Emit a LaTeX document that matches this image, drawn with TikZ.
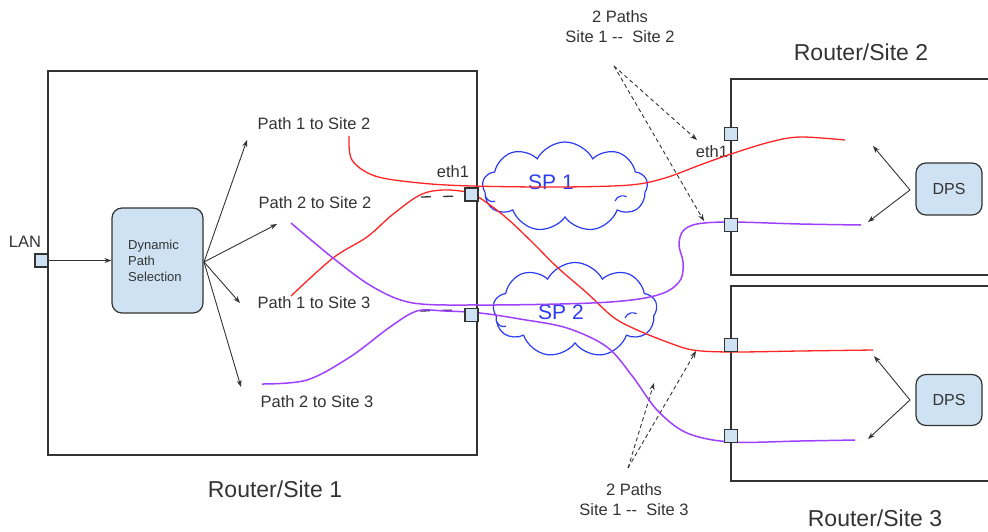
\documentclass[tikz,border=0pt]{standalone}
\usepackage{fontspec}
\setmainfont{Liberation Sans}
\usetikzlibrary{shapes.symbols,arrows.meta}
\definecolor{ink}{HTML}{333333}
\definecolor{portfill}{HTML}{CFE2F3}
\definecolor{pred}{HTML}{FF2424}
\definecolor{ppur}{HTML}{A040FF}
\definecolor{pblue}{HTML}{2B3BF0}
\tikzset{
  box/.style={draw=ink, line width=1.4pt},
  port/.style={draw=ink, fill=portfill, line width=1.2pt, minimum size=13pt, inner sep=0pt},
  dpsbox/.style={draw=ink, fill=portfill, rounded corners=10pt, line width=1.2pt, inner sep=0pt},
  lbl/.style={text=ink, font=\fontsize{16.5}{19}\selectfont, inner sep=0pt},
  big/.style={text=ink, font=\fontsize{23}{27}\selectfont, inner sep=0pt},
  arr/.style={draw=ink, line width=0.9pt, -{Stealth[length=7pt,width=5pt]}},
  darr/.style={arr, dash pattern=on 4pt off 3pt},
  redp/.style={draw=pred, line width=1.3pt},
  purp/.style={draw=ppur, line width=1.5pt},
  cloudsh/.style={cloud, cloud puffs=9, cloud puff arc=125, aspect=1.8, draw=pblue, line width=1.2pt, inner sep=0pt},
  hook/.style={draw=pblue, line width=1.2pt},
  sptext/.style={text=pblue, font=\fontsize{21}{24}\selectfont, inner sep=0pt},
  stub/.style={draw=ink, line width=1.3pt, dash pattern=on 10pt off 12pt}
}
\begin{document}
\begin{tikzpicture}[x=1pt,y=-1pt]
\useasboundingbox (0,0) rectangle (988,531);
% boxes
\draw[box] (48,71) rectangle (477,455);
\draw[box] (990,79) -- (731,79) -- (731,275) -- (990,275);
\draw[box] (990,286) -- (731,286) -- (731,481) -- (990,481);
% clouds
\node[cloudsh, minimum width=165pt, minimum height=90pt] (c1) at (565,187) {};
\node[cloudsh, minimum width=164pt, minimum height=95pt] (c2) at (575,310) {};
\draw[hook] (486,197) arc[start angle=200, end angle=290, radius=7pt];
\draw[hook] (615,201) arc[start angle=160, end angle=60, radius=8pt];
\draw[hook] (497,322) arc[start angle=200, end angle=290, radius=7pt];
\draw[hook] (625,318) arc[start angle=160, end angle=60, radius=8pt];
\node[sptext] (sp1) at (551,182) {SP 1};
\node[sptext] (sp2) at (561,312) {SP 2};
% labels
\node[lbl] (lanl) at (25,242) {LAN};
\node[lbl] (p12) at (314,124) {Path 1 to Site 2};
\node[lbl] (p22) at (315,203) {Path 2 to Site 2};
\node[lbl] (p13) at (314,303) {Path 1 to Site 3};
\node[lbl] (p23) at (317,402) {Path 2 to Site 3};
\node[lbl] (e1) at (453,172) {eth1};
\node[lbl] (e2) at (712,152) {eth1};
\node[lbl, align=center] (t12) at (620,27) {2 Paths\\[1pt]Site 1 {-}{-}\ \ Site 2};
\node[lbl, align=center] (t13) at (634,500) {2 Paths\\[1pt]Site 1 {-}{-}\ \ Site 3};
\node[big] (r1) at (275,489) {Router/Site 1};
\node[big] (r2) at (861,52) {Router/Site 2};
\node[big] (r3) at (875,518) {Router/Site 3};
% dps boxes
\node[dpsbox, minimum width=91pt, minimum height=105pt] (dps) at (157.5,260.5) {};
\node[text=ink, anchor=west, align=left, inner sep=0pt, font=\fontsize{13}{16}\selectfont] (dpst) at (128,261) {Dynamic\\Path\\Selection};
\node[dpsbox, minimum width=66pt, minimum height=52pt, text=ink, font=\fontsize{16}{19}\selectfont] (d2) at (949,189) {DPS};
\node[dpsbox, minimum width=66pt, minimum height=51pt, text=ink, font=\fontsize{16}{19}\selectfont] (d3) at (949,400) {DPS};
% coordinates
\coordinate (o) at (204,262);
\coordinate (a1) at (247,140);
\coordinate (a2) at (277,224);
\coordinate (a3) at (240,303);
\coordinate (a4) at (241,387);
\coordinate (s2o) at (910,190);
\coordinate (s2a) at (873,146);
\coordinate (s2b) at (868,222);
\coordinate (s3o) at (910,400);
\coordinate (s3a) at (874,356);
\coordinate (s3b) at (868,439);
\coordinate (dt) at (614,66);
\coordinate (dt1) at (697,140);
\coordinate (dt2) at (704,221);
\coordinate (db) at (628,468);
\coordinate (db1) at (654,383);
\coordinate (db2) at (696,351);
% ports
\node[port] (lan) at (41.5,260.5) {};
\node[port] (s1u) at (471.5,194.5) {};
\node[port] (s1l) at (471.5,315) {};
\node[port] (s2u) at (731,134) {};
\node[port] (s2l) at (731,225) {};
\node[port] (s3u) at (731,345) {};
\node[port] (s3l) at (731,436) {};
% arrows
\draw[arr] (lan.east) -- (dps.west);
\draw[arr] (o) -- (a1);
\draw[arr] (o) -- (a2);
\draw[arr] (o) -- (a3);
\draw[arr] (o) -- (a4);
\draw[arr] (s2o) -- (s2a);
\draw[arr] (s2o) -- (s2b);
\draw[arr] (s3o) -- (s3a);
\draw[arr] (s3o) -- (s3b);
\draw[darr] (dt) -- (dt1);
\draw[darr] (dt) -- (dt2);
\draw[darr] (db) -- (db1);
\draw[darr] (db) -- (db2);
% stubs
\draw[stub] (421,197) -- (462,196);
\draw[stub] (420,311) -- (457,310);
% paths
\draw[redp] plot[smooth, tension=0.55] coordinates {(349,136) (352,160) (375,176) (420,183) (472,186) (560,187) (630,185) (665,178) (700,165) (731,154) (770,142) (800,137) (845,140)};
\draw[redp] plot[smooth, tension=0.55] coordinates {(291,296) (333,258) (367,237) (392,215) (420,195) (443,190) (470,193) (490,205) (510,221) (533,243) (557,267) (587,293) (613,317) (635,329) (667,342) (693,350) (731,352) (800,351) (873,350)};
\draw[purp] plot[smooth, tension=0.55] coordinates {(291,223) (333,258) (373,287) (413,303) (480,305) (560,304) (610,302) (645,298) (668,291) (681,279) (683,262) (679,245) (683,231) (697,224) (731,222) (800,224) (861,225)};
\draw[purp] plot[smooth, tension=0.55] coordinates {(262,384) (307,380) (350,357) (390,327) (417,311) (445,311) (480,313) (520,319) (567,328) (607,347) (633,377) (657,410) (687,433) (731,442) (800,441) (855,440)};
% ports on top
\node[port] at (s1u) {};
\node[port] at (s1l) {};
\node[port] at (s2u) {};
\node[port] at (s2l) {};
\node[port] at (s3u) {};
\node[port] at (s3l) {};
\end{tikzpicture}
\end{document}
